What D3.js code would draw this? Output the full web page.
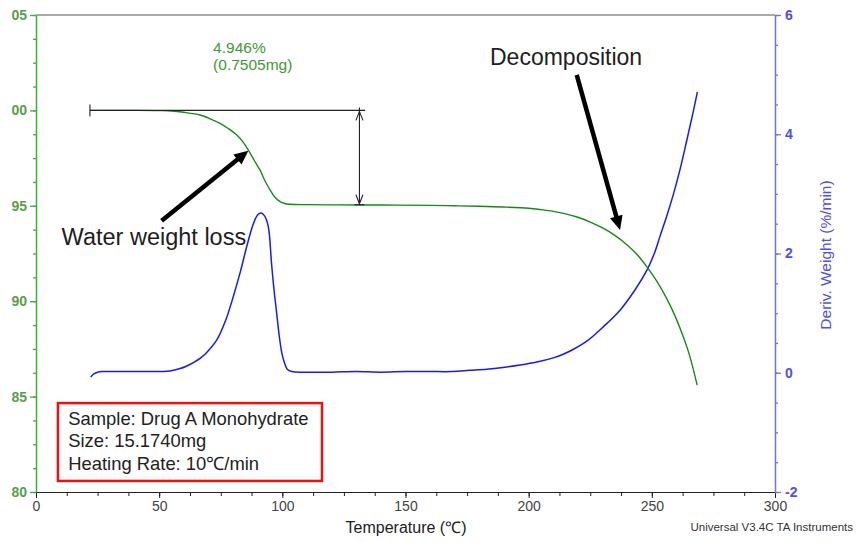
<!DOCTYPE html>
<html><head><meta charset="utf-8">
<script src="https://cdn.jsdelivr.net/npm/d3@7"></script>
<style>
body{margin:0;background:#fff;}
svg{display:block;font-family:"Liberation Sans",Arial,Helvetica,sans-serif;}
</style>
</head><body>
<svg id="c" width="856" height="542"></svg>
<script>
// ---------- data ----------
const weightTemp = [22,30,40,50,55,60,66.6,70,74.7,78,81.5,84,86.2,88.5,90.9,93,95,97,99.1,101,103.1,110,120,140,160,170,180,190,200,205,210,215,220,225,230,235,240,244,248,252,256,259,262,264.5,266.5,268.4];
const weightPct  = [100.0,100.0,100.0,99.99,99.97,99.9,99.76,99.6,99.32,99.05,98.71,98.35,97.92,97.4,96.88,96.3,95.83,95.45,95.22,95.12,95.08,95.06,95.05,95.04,95.02,95.0,94.975,94.935,94.87,94.8,94.71,94.58,94.4,94.15,93.84,93.45,92.95,92.45,91.8,91.05,90.15,89.35,88.4,87.5,86.6,85.6];

const derivTemp = [22.2,23.5,25,27.3,35,45,54.4,58.5,61,63.9,66.6,69.3,73.4,77,80.1,83,85.5,88,90,91.4,92.8,94.3,95.6,96.6,97.7,98.8,99.8,101,102,103.8,110,120,130,140,150,160,169,176,183,189.6,196.5,203.3,210,214,218,223.6,230,237.1,243,248,251,253.4,256,258.8,261.5,264.2,266.5,268.5];
const derivVal  = [-0.07,-0.02,0.01,0.02,0.02,0.02,0.03,0.07,0.11,0.17,0.24,0.34,0.55,0.88,1.28,1.7,2.11,2.47,2.65,2.68,2.63,2.45,1.84,1.4,1.0,0.6,0.33,0.15,0.06,0.02,0.01,0.01,0.02,0.01,0.02,0.02,0.02,0.04,0.06,0.09,0.13,0.18,0.25,0.31,0.39,0.53,0.76,1.05,1.38,1.72,2.0,2.3,2.62,3.0,3.42,3.9,4.32,4.71];

const xTicks = [0,50,100,150,200,250,300];
const leftTicks = [80,85,90,95,100,105];
const leftTickLabels = ["80","85","90","95","00","05"];
const rightTicks = [-2,0,2,4,6];
const rightTickLabels = ["-2","0","2","4","6"];

const xTitle = "Temperature (\u2103)";
const yRightTitle = "Deriv. Weight (%/min)";
const credit = "Universal V3.4C TA Instruments";
const stepLabel = ["4.946%","(0.7505mg)"];
const infoLines = ["Sample: Drug A Monohydrate","Size: 15.1740mg","Heating Rate: 10\u2103/min"];
const waterLabel = "Water weight loss";
const decompLabel = "Decomposition";

// step annotation (temperature, weight %)
const stepStartT = 21.9, stepEndT = 133.6, stepArrowT = 131.3;
const stepTop = 100.0, stepBottom = 95.054;
// arrows in data space [T, %]
const waterArrow = [[51.0,94.22],[86.2,97.89]];
const decompArrow = [[219.5,101.86],[237.1,93.73]];

// ---------- layout ----------
const L=36, R=775, T=15, B=492;
const svg = d3.select("#c");
const x  = d3.scaleLinear().domain([0,300]).range([L,R]);
const yL = d3.scaleLinear().domain([80,105]).range([B,T]);
const yR = d3.scaleLinear().domain([-2,6]).range([B,T]);

const greenAxis="#3fae3f", blueAxis="#7070ff", blueText="#4f4ff0";

// top border
svg.append("line").attr("x1",L).attr("x2",R).attr("y1",T).attr("y2",T)
  .attr("stroke","#555").attr("stroke-width",1);

// bottom axis
const gx = svg.append("g").attr("transform",`translate(0,${B})`)
  .call(d3.axisBottom(x).tickValues(xTicks).tickSize(6).tickSizeOuter(0).tickPadding(3));
gx.select(".domain").attr("stroke","#222").attr("stroke-width",1.2);
gx.selectAll(".tick line").attr("stroke","#222");
gx.selectAll("text").attr("font-size",14).attr("fill","#444").attr("font-family","Liberation Sans, Arial");
const gxm = svg.append("g").attr("transform",`translate(0,${B})`)
  .call(d3.axisBottom(x).tickValues(d3.range(0,300.1,12.5)).tickSize(4).tickSizeOuter(0).tickFormat(""));
gxm.select(".domain").remove();
gxm.selectAll(".tick line").attr("stroke","#222");

// left axis
const gl = svg.append("g").attr("transform",`translate(${L},0)`)
  .call(d3.axisLeft(yL).tickValues(leftTicks).tickFormat((d,i)=>leftTickLabels[i]).tickSize(6).tickSizeOuter(0).tickPadding(3));
gl.select(".domain").attr("stroke",greenAxis).attr("stroke-width",1.5);
gl.selectAll(".tick line").attr("stroke",greenAxis).attr("stroke-width",1.3);
gl.selectAll("text").attr("font-size",14).attr("font-weight","bold").attr("fill","#5a9e4a").attr("font-family","Liberation Sans, Arial");
const glm = svg.append("g").attr("transform",`translate(${L},0)`)
  .call(d3.axisLeft(yL).tickValues(d3.range(80,105.01,1.25)).tickSize(3).tickSizeOuter(0).tickFormat(""));
glm.select(".domain").remove();
glm.selectAll(".tick line").attr("stroke",greenAxis).attr("stroke-width",1.3);

// right axis
const gr = svg.append("g").attr("transform",`translate(${R},0)`)
  .call(d3.axisRight(yR).tickValues(rightTicks).tickFormat((d,i)=>rightTickLabels[i]).tickSize(6).tickSizeOuter(0).tickPadding(4));
gr.select(".domain").attr("stroke",blueAxis).attr("stroke-width",1.5);
gr.selectAll(".tick line").attr("stroke",blueAxis).attr("stroke-width",1.3);
gr.selectAll("text").attr("font-size",14).attr("font-weight","bold").attr("fill",blueText).attr("font-family","Liberation Sans, Arial");
const grm = svg.append("g").attr("transform",`translate(${R},0)`)
  .call(d3.axisRight(yR).tickValues(d3.range(-2,6.01,0.5)).tickSize(3).tickSizeOuter(0).tickFormat(""));
grm.select(".domain").remove();
grm.selectAll(".tick line").attr("stroke",blueAxis).attr("stroke-width",1.3);

// axis titles
svg.append("text").attr("x",406).attr("y",533).attr("text-anchor","middle")
  .attr("font-size",16).attr("fill","#222").text(xTitle);
svg.append("text").attr("transform",`translate(831,255) rotate(-90)`).attr("text-anchor","middle")
  .attr("font-size",15.5).attr("fill",blueText).text(yRightTitle);
svg.append("text").attr("x",853).attr("y",531).attr("text-anchor","end")
  .attr("font-size",11.5).attr("fill","#333").text(credit);

// curves
const gData = weightTemp.map((t,i)=>({t, v:weightPct[i]}));
const bData = derivTemp.map((t,i)=>({t, v:derivVal[i]}));
svg.append("path").datum(bData).attr("fill","none").attr("stroke","#1a1af5").attr("stroke-width",1.5)
  .attr("d", d3.line().x(d=>x(d.t)).y(d=>yR(d.v)).curve(d3.curveCatmullRom.alpha(0.5)));
svg.append("path").datum(gData).attr("fill","none").attr("stroke","#168a16").attr("stroke-width",1.4)
  .attr("d", d3.line().x(d=>x(d.t)).y(d=>yL(d.v)).curve(d3.curveCatmullRom.alpha(0.5)));

// step annotation
const ann = svg.append("g").attr("stroke","#222").attr("stroke-width",1.1).attr("fill","none");
ann.append("line").attr("x1",x(stepStartT)).attr("x2",x(stepEndT)).attr("y1",yL(stepTop)).attr("y2",yL(stepTop));
ann.append("line").attr("x1",x(stepStartT)).attr("x2",x(stepStartT)).attr("y1",yL(stepTop)-6).attr("y2",yL(stepTop)+6);
const ax = x(stepArrowT), ay1 = yL(stepTop), ay2 = yL(stepBottom);
ann.append("line").attr("x1",ax).attr("x2",ax).attr("y1",ay1-3).attr("y2",ay2);
ann.append("line").attr("x1",ax-5).attr("x2",ax+5).attr("y1",ay2).attr("y2",ay2);
ann.append("path").attr("d",`M${ax-3.5},${ay1+10}L${ax},${ay1+1}L${ax+3.5},${ay1+10}`);
ann.append("path").attr("d",`M${ax-3.5},${ay2-10}L${ax},${ay2-1}L${ax+3.5},${ay2-10}`);

svg.append("g").selectAll("text").data(stepLabel).join("text")
  .attr("x",x(71.9)).attr("y",(d,i)=>yL(i===0?102.99:102.12))
  .attr("font-size",15.5).attr("fill","#3e9a36").text(d=>d);

// big arrows
function bigArrow(p){
  const x1=x(p[0][0]), y1=yL(p[0][1]), x2=x(p[1][0]), y2=yL(p[1][1]);
  const dx=x2-x1, dy=y2-y1, len=Math.hypot(dx,dy), ux=dx/len, uy=dy/len;
  const hl=14, hw=6.5;
  const bx=x2-ux*hl, by=y2-uy*hl;
  svg.append("line").attr("x1",x1).attr("y1",y1).attr("x2",bx+ux*2).attr("y2",by+uy*2)
    .attr("stroke","#000").attr("stroke-width",4.5);
  svg.append("path").attr("fill","#000")
    .attr("d",`M${x2},${y2}L${bx-uy*hw},${by+ux*hw}L${bx+uy*hw},${by-ux*hw}Z`);
}
bigArrow(waterArrow);
bigArrow(decompArrow);

svg.append("text").attr("x",x(10.4)).attr("y",yL(92.95)).attr("font-size",23.5).attr("fill","#1e1e1e").text(waterLabel);
svg.append("text").attr("x",x(184.3)).attr("y",yL(102.38)).attr("font-size",23).attr("fill","#1e1e1e").text(decompLabel);

// info box
svg.append("rect").attr("x",x(8.9)).attr("y",yL(84.66)).attr("width",x(116.1)-x(8.9)).attr("height",yL(80.58)-yL(84.66))
  .attr("fill","#fff").attr("stroke","#ee1111").attr("stroke-width",2.5);
svg.append("g").selectAll("text").data(infoLines).join("text")
  .attr("x",x(13.1)).attr("y",(d,i)=>yL([83.51,82.34,81.15][i]))
  .attr("font-size",18.4).attr("fill","#222").text(d=>d);
</script>
</body></html>
